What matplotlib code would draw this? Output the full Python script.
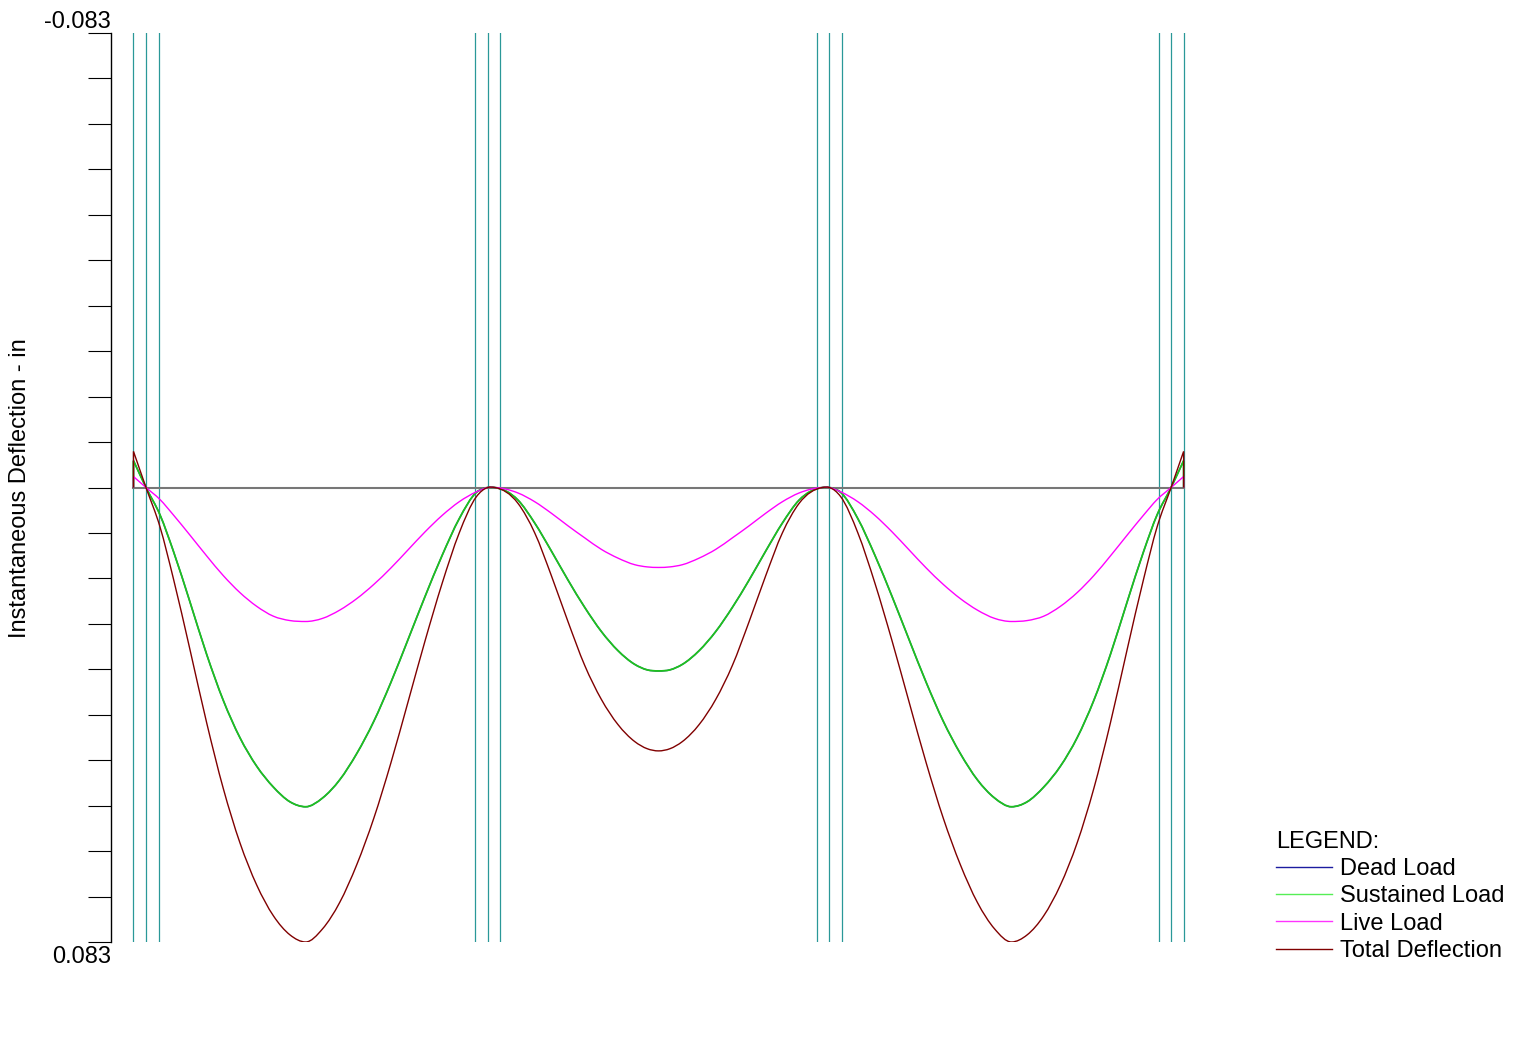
import matplotlib
matplotlib.use("Agg")
import matplotlib.pyplot as plt
from matplotlib.path import Path
from matplotlib.patches import PathPatch
from matplotlib.lines import Line2D
import numpy as np

plt.rcParams['font.family'] = ['Liberation Sans', 'DejaVu Sans']

# ---- data (x in ft along the beam, deflection in inches, downward positive) ----
col_centers = [0, 30, 60, 90]
col_half_width = 1.1
beam_ends = [-1.1, 91.1]

# span 1 sample positions (ft)
span1_x = [0, 1.23, 2.40, 3.86, 5.33, 6.79, 8.25, 9.72, 11.18, 12.64, 14.02,
           15.5, 17.0, 18.5, 20.0, 21.5, 23.0, 24.5, 26.0, 27.5, 29.0, 30.0]
# span 2 sample positions (ft)
span2_x = [30.61, 32.66, 34.13, 35.59, 37.05, 38.52, 39.98, 41.44, 42.91, 44.0, 45.0,
           46.0, 47.09, 48.56, 50.02, 51.48, 52.95, 54.41, 55.87, 57.34, 59.39]
# span 3 sample positions (ft)
span3_x = [60.0, 61.0, 62.5, 64.0, 65.5, 67.0, 68.5, 70.0, 71.5, 73.0, 74.5,
           75.98, 77.36, 78.82, 80.28, 81.75, 83.21, 84.67, 86.14, 87.6, 88.77, 90.0]

tip_total = -0.0066
tip_sustained = -0.0049
tip_live = -0.0020
tip_dead = -0.0049

total_s1 = [0, 0.0072, 0.0166, 0.0296, 0.0430, 0.0550, 0.0649, 0.0726, 0.0782, 0.0817, 0.0830,
            0.0806, 0.0758, 0.0689, 0.0604, 0.0503, 0.0392, 0.0280, 0.0175, 0.0083, 0.0017, 0]
total_s2 = [0, 0.0029, 0.0083, 0.0161, 0.0245, 0.0325, 0.0387, 0.0433, 0.0464, 0.0477, 0.0481,
            0.0477, 0.0464, 0.0433, 0.0387, 0.0325, 0.0245, 0.0161, 0.0083, 0.0029, 0]
total_s3 = [0, 0.0017, 0.0083, 0.0175, 0.0280, 0.0392, 0.0503, 0.0604, 0.0689, 0.0758, 0.0806,
            0.0830, 0.0817, 0.0782, 0.0726, 0.0649, 0.0550, 0.0430, 0.0296, 0.0166, 0.0072, 0]

sustained_s1 = [0, 0.0050, 0.0116, 0.0209, 0.0305, 0.0389, 0.0457, 0.0509, 0.0547, 0.0574, 0.0583,
                0.0567, 0.0534, 0.0486, 0.0427, 0.0356, 0.0278, 0.0199, 0.0124, 0.0057, 0.0009, 0]
sustained_s2 = [0, 0.0023, 0.0065, 0.0116, 0.0169, 0.0219, 0.0263, 0.0298, 0.0323, 0.0333, 0.0335,
                0.0333, 0.0323, 0.0298, 0.0263, 0.0219, 0.0169, 0.0116, 0.0065, 0.0023, 0]
sustained_s3 = [0, 0.0009, 0.0057, 0.0124, 0.0199, 0.0278, 0.0356, 0.0427, 0.0486, 0.0534, 0.0567,
                0.0583, 0.0574, 0.0547, 0.0509, 0.0457, 0.0389, 0.0305, 0.0209, 0.0116, 0.0050, 0]

dead_s1 = [0, 0.0050, 0.0116, 0.0209, 0.0305, 0.0389, 0.0457, 0.0509, 0.0547, 0.0574, 0.0583,
           0.0567, 0.0534, 0.0486, 0.0427, 0.0356, 0.0278, 0.0199, 0.0124, 0.0057, 0.0009, 0]
dead_s2 = [0, 0.0023, 0.0065, 0.0116, 0.0169, 0.0219, 0.0263, 0.0298, 0.0323, 0.0333, 0.0335,
           0.0333, 0.0323, 0.0298, 0.0263, 0.0219, 0.0169, 0.0116, 0.0065, 0.0023, 0]
dead_s3 = [0, 0.0009, 0.0057, 0.0124, 0.0199, 0.0278, 0.0356, 0.0427, 0.0486, 0.0534, 0.0567,
           0.0583, 0.0574, 0.0547, 0.0509, 0.0457, 0.0389, 0.0305, 0.0209, 0.0116, 0.0050, 0]

live_s1 = [0, 0.0022, 0.0050, 0.0087, 0.0125, 0.0161, 0.0192, 0.0217, 0.0235, 0.0243, 0.02447,
           0.0239, 0.0224, 0.0203, 0.0177, 0.0147, 0.0114, 0.0081, 0.0051, 0.0026, 0.0008, 0]
live_s2 = [0, 0.0010, 0.0026, 0.0047, 0.0070, 0.0092, 0.0113, 0.0129, 0.0141, 0.0145, 0.0146,
           0.0145, 0.0141, 0.0129, 0.0113, 0.0092, 0.0070, 0.0047, 0.0026, 0.0010, 0]
live_s3 = [0, 0.0008, 0.0026, 0.0051, 0.0081, 0.0114, 0.0147, 0.0177, 0.0203, 0.0224, 0.0239,
           0.02447, 0.0243, 0.0235, 0.0217, 0.0192, 0.0161, 0.0125, 0.0087, 0.0050, 0.0022, 0]

y_limit = 0.083
n_y_ticks = 21
ylabel = "Instantaneous Deflection - in"
legend_title = "LEGEND:"
series_names = ["Dead Load", "Sustained Load", "Live Load", "Total Deflection"]
series_colors = ["#1c1ca0", "#1ec31e", "#ff00ff", "#800000"]
legend_colors = ["#1c1ca0", "#55ee55", "#ff33ff", "#800000"]

# ---- figure ----
W, H = 1526, 1055
FS = 17
fig = plt.figure(figsize=(W / 100, H / 100), dpi=100)
ax_left_px, ax_right_px, ax_top_px, ax_bot_px = 111, 1200, 33, 942
ax = fig.add_axes([ax_left_px / W, 1 - ax_bot_px / H,
                   (ax_right_px - ax_left_px) / W, (ax_bot_px - ax_top_px) / H])

px_per_ft = 341.7 / 30.0
ax.set_xlim((ax_left_px - 146) / px_per_ft, (ax_right_px - 146) / px_per_ft)
ax.set_ylim(y_limit, -y_limit)


def smooth_deflection_path(tip, s1, s2, s3):
    """Vertical drop at each beam end plus a smooth cubic curve through the
    read values (three-point slopes, zero slope at local extrema)."""
    x = np.array([beam_ends[0]] + span1_x + span2_x + span3_x + [beam_ends[1]], float)
    y = np.array([tip] + s1 + s2 + s3 + [tip], float)
    h = np.diff(x)
    d = np.diff(y) / h
    m = np.zeros_like(y)
    m[0], m[-1] = d[0], d[-1]
    for k in range(1, len(y) - 1):
        if d[k - 1] * d[k] < 0:
            m[k] = 0.0
        else:
            m[k] = (h[k - 1] * d[k] + h[k] * d[k - 1]) / (h[k - 1] + h[k])
    verts = [(beam_ends[0], 0.0), (x[0], y[0])]
    codes = [Path.MOVETO, Path.LINETO]
    for k in range(len(x) - 1):
        hk = h[k]
        verts += [(x[k] + hk / 3, y[k] + m[k] * hk / 3),
                  (x[k + 1] - hk / 3, y[k + 1] - m[k + 1] * hk / 3),
                  (x[k + 1], y[k + 1])]
        codes += [Path.CURVE4] * 3
    verts.append((beam_ends[1], 0.0))
    codes.append(Path.LINETO)
    return Path(verts, codes)


# column lines
for c in col_centers:
    for off in (-col_half_width, 0, col_half_width):
        ax.axvline(c + off, color="#2a9898", lw=0.9, zorder=1)

# beam reference line
ax.plot(beam_ends, [0, 0], color="#777777", lw=1.5, zorder=2)

series = [
    (series_colors[0], tip_dead, dead_s1, dead_s2, dead_s3, 1.0),
    (series_colors[1], tip_sustained, sustained_s1, sustained_s2, sustained_s3, 1.3),
    (series_colors[2], tip_live, live_s1, live_s2, live_s3, 1.0),
    (series_colors[3], tip_total, total_s1, total_s2, total_s3, 1.0),
]
for color, tip, s1, s2, s3, lw in series:
    path = smooth_deflection_path(tip, s1, s2, s3)
    ax.add_patch(PathPatch(path, fill=False, edgecolor=color, lw=lw, zorder=3,
                           transform=ax.transData))

# axes styling
for s in ("top", "right", "bottom"):
    ax.spines[s].set_visible(False)
ax.spines["left"].set_linewidth(1.0)
ax.set_xticks([])
ax.set_yticks(np.linspace(-y_limit, y_limit, n_y_ticks))
ax.tick_params(axis="y", direction="out", length=16.5, width=0.8, labelleft=False)

# end labels
ax.annotate(f"{-y_limit:.3f}", xy=(0, -y_limit), xycoords=("axes fraction", "data"),
            xytext=(0, 7.9), textcoords="offset points", ha="right", va="center",
            fontsize=FS)
ax.annotate(f"{y_limit:.3f}", xy=(0, y_limit), xycoords=("axes fraction", "data"),
            xytext=(0, -10.8), textcoords="offset points", ha="right", va="center",
            fontsize=FS)

fig.text(20 / W, 1 - 488 / H, ylabel, rotation=90, ha="center", va="center", fontsize=FS)

handles = [Line2D([], [], color=c, lw=1.0) for c in legend_colors]
leg = fig.legend(handles=handles, labels=series_names, title=legend_title,
                 loc="upper left", bbox_to_anchor=(1276 / W, 1 - 831 / H),
                 frameon=False, fontsize=FS, title_fontsize=FS,
                 handlelength=2.37, handletextpad=0.34, labelspacing=0.22,
                 borderaxespad=0, borderpad=0)
leg._legend_box.align = "left"

fig.savefig("out.png", dpi=100)
